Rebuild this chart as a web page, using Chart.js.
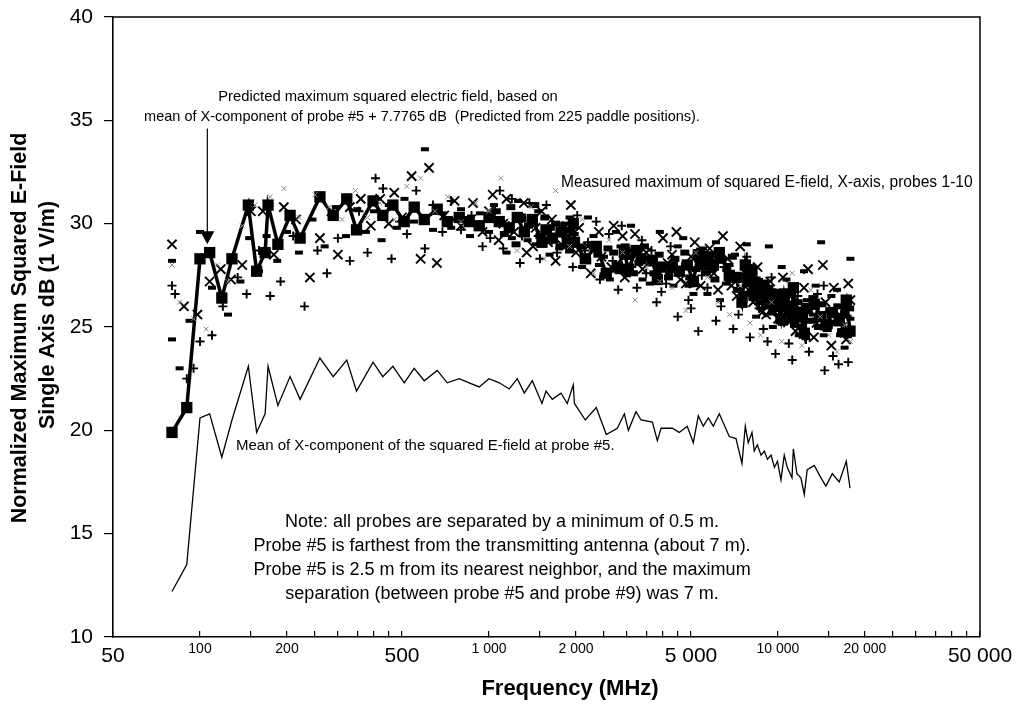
<!DOCTYPE html>
<html><head><meta charset="utf-8">
<script src="https://cdn.jsdelivr.net/npm/chart.js@4.4.1/dist/chart.umd.min.js"></script>
<style>html,body{margin:0;padding:0;background:#fff;}#wrap{width:1016px;height:706px;}</style>
</head><body><div id="wrap"><canvas id="c" width="1016" height="706"></canvas></div>
<script>
// ---------- data ----------
const freqMHz = [80,90,100,108,119,129,147,157,168,172,186,205,222,260,289,322,348,397,429,465,
  509,551,597,662,717,789,854,925,1000,1085,1175,1253,1325,1412,1525,1575,1656,1775,1866,1957,
  1975,2154,2350,2546,2780,2940,3036,3226,3358,3676,3824,3940,4308,4552,4853,5092,5300,5515,5738,5971,
  6264,6783,7156,7505,7706,7890,8128,8280,8480,8736,8970,9190,9460,9720,9955,10240,10510,10770,11180,11300,
  11630,12000,12330,12620,13350,14080,14650,15410,16290,17230,17750];
const meanDb = [12.2,13.5,20.6,20.8,18.7,20.5,23.1,19.9,20.8,23.1,
  21.2,22.6,21.5,23.5,22.6,23.4,21.9,23.3,22.6,23.1,
  22.3,23.0,22.4,22.9,22.3,22.5,22.3,22.1,22.5,22.3,
  22.0,22.5,21.8,22.4,21.3,21.9,21.5,21.8,21.3,22.2,
  21.3,20.5,21.1,19.8,20.1,20.8,20.0,20.9,20.5,20.4,
  19.5,20.1,20.1,19.9,20.2,19.4,20.7,20.2,20.6,20.2,
  20.8,19.7,19.6,18.4,20.2,19.4,19.9,19.0,19.3,18.8,
  19.0,18.6,18.8,18.2,18.5,17.6,18.8,18.2,17.7,19.1,
  17.9,17.7,16.9,18.1,18.3,17.7,17.3,17.9,17.5,18.5,
  17.2];
const predictedDb = [19.9,21.1,28.3,28.6,26.4,28.3,30.9,27.7,28.6,30.9,
  29.0,30.4,29.3,31.3,30.4,31.2,29.7,31.1,30.4,30.9,
  30.1,30.8,30.2,30.7,30.1,30.3,30.1,29.9,30.3,30.1,
  29.8,30.3,29.6,30.2,29.1,29.7,29.3,29.6,29.1,30.0,
  29.1,28.3,28.9,27.6,27.9,28.6,27.8,28.7,28.3,28.2,
  27.3,27.9,27.9,27.7,28.0,27.2,28.5,28.0,28.4,28.0,
  28.6,27.5,27.4,26.2,28.0,27.2,27.7,26.8,27.1,26.6,
  26.8,26.4,26.6,26.0,26.3,25.4,26.6,26.0,25.5,26.9,
  25.7,25.5,24.7,25.9,26.1,25.5,25.1,25.7,25.3,26.3,
  24.8];

// measured maxima, probes 1-10 (grouped by marker glyph) : [MHz, dB]
const probesCross = [[80,29.0],[88,26.0],[98,25.6],[108,27.2],[118,27.8],[128,27.3],[140,28.0],[150,30.6],[165,30.6],[180,28.5],
  [195,30.8],[215,30.2],[240,27.4],[260,29.3],[285,30.6],[300,28.5],[330,30.8],[360,31.2],[390,29.9],[420,31.2],
  [450,30.0],[470,31.5],[500,30.3],[540,32.3],[580,28.3],[620,32.7],[660,28.1],[700,30.4],[760,31.1],[800,29.9],
  [880,31.0],[950,29.6],[1000,30.6],[1080,29.2],[1150,31.2],[1250,30.2],[1350,28.6],[1450,29.8],[1600,29.1],[1700,28.2],
  [1850,29.5],[2000,28.6],[2200,28.9],[2400,29.6],[2650,27.9],[2900,29.4],[3100,28.7],[3400,27.8],[3700,28.2],[4000,29.3],
  [4300,28.5],[4600,27.3],[5000,28.4],[5400,27.0],[5800,28.8],[6200,26.8],[6700,28.3],[7200,26.5],[7700,27.6],[8200,26.2],
  [8800,25.7],[9400,27.2],[10000,25.4],[10800,26.6],[11500,24.8],[12300,26.9],[13300,24.5],[14300,28.0],[15300,24.1],[16300,25.6],
  [17200,24.4],[17800,26.3],
  [1030,31.4],[1120,30.0],[1220,29.6],[1320,31.0],[1420,28.9],[1520,30.6],[1650,30.2],[1780,29.0],[1920,30.9],[2050,29.8],
  [2250,27.6],[2450,28.4],[2700,29.9],[2950,27.4],[3200,29.5],[3500,28.6],[3800,27.4],[4150,28.1],[4450,29.6],[4800,27.1],
  [5150,29.1],[5600,28.1],[6000,27.6],[6450,29.4],[6900,27.0],[7400,28.9],[7900,26.8],[8500,27.9],[9100,25.6],[9700,26.3],
  [10400,27.4],[11100,25.3],[11900,25.9],[12700,27.8],[13600,25.2],[14600,26.2],[15600,26.9],[16700,25.0],[17500,27.1]];
const probesPlus = [[80,27.0],[82,26.6],[90,22.5],[95,23.0],[100,24.3],[110,24.6],[120,26.0],[135,27.4],[145,26.6],[160,28.7],
  [175,26.5],[190,27.2],[210,29.4],[230,26.0],[255,28.7],[275,27.6],[300,29.3],[330,28.2],[355,30.6],[380,28.6],
  [405,32.2],[430,31.7],[460,28.3],[490,30.1],[520,29.5],[560,31.6],[600,28.8],[640,30.9],[690,29.6],[740,31.1],
  [800,29.7],[870,30.4],[950,28.9],[1050,30.6],[1120,28.8],[1200,31.2],[1300,29.4],[1400,30.1],[1500,28.3],[1650,29.2],
  [1800,29.9],[1950,27.9],[2150,28.7],[2350,30.1],[2600,29.5],[2800,26.8],[3000,28.3],[3250,26.9],[3500,27.6],[3800,26.2],
  [4100,27.1],[4500,25.5],[4900,26.3],[5300,24.8],[5700,26.9],[6100,25.3],[6500,27.9],[7000,24.9],[7500,26.1],[8000,24.5],
  [8600,25.9],[9200,24.3],[9800,23.7],[10500,25.2],[11200,23.4],[12000,24.9],[12800,23.8],[13700,26.6],[14500,22.9],[15500,23.6],
  [16500,24.7],[17500,23.3],
  [1010,29.3],[1090,31.6],[1170,29.9],[1280,28.1],[1380,31.0],[1480,29.4],[1580,30.9],[1720,28.6],[1870,29.2],[2020,30.4],
  [2200,29.1],[2420,27.3],[2680,28.2],[2880,29.9],[3120,27.9],[3380,29.2],[3650,28.7],[3950,26.7],[4250,28.9],[4650,27.9],
  [5000,25.9],[5450,27.5],[5900,28.2],[6350,26.0],[6800,27.2],[7300,25.6],[7800,28.4],[8300,26.7],[8900,24.9],[9500,27.4],
  [10200,26.1],[10900,24.2],[11700,26.5],[12500,24.4],[13400,25.4],[14400,27.0],[15200,25.3],[16200,23.2],[17100,26.0],[17700,24.7]];
const probesDash = [[80,28.2],[80,24.4],[85,23.0],[92,25.3],[100,29.6],[110,26.9],[118,26.6],[125,25.6],[138,27.2],[148,29.3],
  [160,27.7],[170,29.4],[185,28.2],[200,29.6],[220,28.6],[245,30.2],[270,28.9],[295,30.8],[320,29.4],[350,30.7],
  [375,29.6],[400,30.6],[425,29.2],[450,30.9],[480,29.8],[510,31.2],[550,30.1],[600,33.6],[640,29.7],[690,30.5],
  [740,29.8],[800,30.7],[860,29.4],[930,30.5],[1000,29.6],[1100,30.1],[1200,29.3],[1300,30.4],[1450,29.0],[1600,29.6],
  [1750,28.8],[1900,30.3],[2100,27.9],[2300,29.4],[2500,28.4],[2750,29.6],[3000,27.5],[3300,28.7],[3600,27.1],[3900,29.6],
  [4200,27.6],[4500,28.9],[4900,27.0],[5300,28.2],[5700,26.6],[6100,29.1],[6600,27.1],[7100,28.5],[7600,26.3],[8100,27.7],
  [8700,25.9],[9300,28.9],[10000,26.4],[10700,27.3],[11500,25.2],[12300,27.7],[13200,25.6],[14100,29.1],[15000,25.0],[16000,26.8],
  [17000,24.0],[17800,28.3],[17800,25.4],
  [1040,30.9],[1150,28.6],[1260,31.1],[1360,29.2],[1480,30.6],[1620,28.5],[1820,30.0],[1980,29.5],[2200,30.3],[2400,28.0],
  [2620,27.3],[2850,28.9],[3100,29.9],[3400,27.3],[3700,28.4],[4050,28.0],[4350,27.0],[4700,29.3],[5100,26.6],[5500,28.8],
  [5900,27.7],[6300,26.3],[6800,28.0],[7300,27.3],[7800,29.0],[8400,25.5],[9000,27.2],[9600,25.0],[10300,27.9],[11000,26.0],
  [11800,24.6],[12600,26.3],[13500,27.0],[14400,24.6],[15300,26.5],[16400,24.6],[17400,25.5]];
// dense cluster of probe maxima along the band (bold bars)
const probesBand = [[1060,30.6],[1130,29.5],[1190,30.8],[1240,29.0],[1300,30.2],[1370,29.9],[1440,30.9],[1500,29.4],[1560,30.3],[1630,29.8],
  [1700,30.0],[1760,28.9],[1840,29.7],[1900,28.7],[1960,29.9],[2080,28.9],[2180,28.2],[2280,29.0],[2380,28.5],[2500,27.5],
  [2580,28.8],[2700,28.6],[2820,27.7],[2960,28.9],[3060,28.4],[3160,27.6],[3300,28.1],[3450,28.9],[3560,28.3],[3720,27.6],
  [3880,28.5],[4000,27.9],[4180,27.4],[4400,28.3],[4600,27.6],[4760,28.6],[4950,27.4],[5200,27.8],[5400,28.7],[5650,27.6],
  [5850,28.5],[6050,27.3],[6400,28.2],[6650,27.8],[6950,28.4],[7250,26.8],[7550,27.5],[7750,26.6],[8000,27.9],[8200,26.4],
  [8400,27.3],[8650,26.2],[8850,27.0],[9050,26.0],[9300,26.9],[9550,25.7],[9850,26.7],[10100,26.1],[10350,25.2],[10600,26.4],
  [10850,25.6],[11050,26.6],[11400,25.1],[11750,26.2],[12150,25.0],[12450,26.0],[12900,25.3],[13200,26.4],[13800,25.0],[14200,26.1],
  [14800,24.9],[15100,25.8],[15800,25.2],[16100,26.0],[16600,24.8],[17000,25.7],[17400,24.6],[17700,25.9]];
const probesGrey = [[80,28.0],[85,26.2],[95,25.4],[105,24.9],[115,28.0],[125,27.2],[140,29.9],[155,30.9],[175,31.3],[195,31.7],
  [220,30.3],[250,31.4],[280,30.8],[310,30.2],[345,31.6],[380,30.3],[420,31.0],[470,30.2],[520,31.8],[580,32.2],
  [650,30.6],[720,31.3],[800,30.1],[900,31.0],[1000,30.6],[1100,32.2],[1250,28.7],[1400,30.8],[1550,28.3],[1700,31.6],
  [1900,28.9],[2100,30.2],[2300,27.6],[2600,29.2],[2900,28.6],[3200,26.3],[3500,27.9],[3900,27.2],[4300,26.9],[4800,25.8],
  [5200,28.6],[5700,27.4],[6200,26.2],[6800,25.6],[7400,27.0],[8000,25.2],[8700,24.6],[9500,26.2],[10300,24.3],[11200,27.6],
  [12100,24.1],[13000,26.8],[14000,25.5],[15000,24.6],[16000,23.8],[17000,25.1],[17800,24.3]];

// axis ticks
const xTickValues = [50,100,150,200,250,300,350,400,450,500,1000,1500,2000,2500,3000,3500,4000,4500,5000,
  10000,15000,20000,25000,30000,35000,40000,45000,50000];
const xLabeledTicks = [50,100,200,500,1000,2000,5000,10000,20000,50000];
const xTickLabels = ['50','100','200','500','1 000','2 000','5 000','10 000','20 000','50 000'];
const xMajorTicks = [50,500,5000,50000];

// texts
const yTitleLines = ['Normalized Maximum Squared E-Field','Single Axis dB (1 V/m)'];
const xTitle = 'Frequency (MHz)';
const predictedNote = ['Predicted maximum squared electric field, based on',
  'mean of X-component of probe #5 + 7.7765 dB  (Predicted from 225 paddle positions).'];
const measuredNote = 'Measured maximum of squared E-field, X-axis, probes 1-10';
const meanNote = 'Mean of X-component of the squared E-field at probe #5.';
const probeNote = ['Note: all probes are separated by a minimum of 0.5 m.',
  'Probe #5 is farthest from the transmitting antenna (about 7 m).',
  'Probe #5 is 2.5 m from its nearest neighbor, and the maximum',
  'separation (between probe #5 and probe #9) was 7 m.'];

// ---------- chart ----------
const FONT = '"Liberation Sans", Arial, Helvetica, sans-serif';
const toXY = pairs => pairs.map(p => ({x: p[0], y: p[1]}));
const lineXY = vals => vals.map((v, i) => ({x: freqMHz[i], y: v}));

const decor = {
  id: 'decor',
  afterDraw(chart) {
    const {ctx, chartArea: a, scales: {x, y}} = chart;
    ctx.save();
    ctx.strokeStyle = '#000'; ctx.lineWidth = 1.5;
    ctx.beginPath(); ctx.moveTo(a.left, a.top); ctx.lineTo(a.right, a.top); ctx.lineTo(a.right, a.bottom); ctx.stroke();
    ctx.fillStyle = '#000';
    // arrow
    const ax = x.getPixelForValue(106);
    const aTop = y.getPixelForValue(34.6), aTip = y.getPixelForValue(29.0);
    ctx.lineWidth = 1.2;
    ctx.beginPath(); ctx.moveTo(ax, aTop); ctx.lineTo(ax, aTip - 12); ctx.stroke();
    ctx.beginPath(); ctx.moveTo(ax - 7, aTip - 13); ctx.lineTo(ax + 7, aTip - 13); ctx.lineTo(ax, aTip); ctx.closePath(); ctx.fill();
    // annotations
    ctx.textBaseline = 'middle';
    ctx.textAlign = 'center';
    ctx.font = '14.8px ' + FONT;
    ctx.fillText(predictedNote[0], 388, 97);
    ctx.font = '14.5px ' + FONT;
    ctx.fillText(predictedNote[1], 422, 117);
    ctx.textAlign = 'left';
    ctx.font = '15.6px ' + FONT;
    ctx.fillText(measuredNote, 561, 183);
    ctx.font = '15px ' + FONT;
    ctx.fillText(meanNote, 236, 446);
    ctx.textAlign = 'center';
    ctx.font = '18px ' + FONT;
    probeNote.forEach((t, i) => ctx.fillText(t, 502, 522 + i * 24));
    // axis titles
    ctx.font = 'bold 22px ' + FONT;
    ctx.fillText(xTitle, 570, 689);
    ctx.font = 'bold 21.5px ' + FONT;
    ctx.textBaseline = 'alphabetic';
    ctx.save(); ctx.translate(26, 328); ctx.rotate(-Math.PI / 2); ctx.fillText(yTitleLines[0], 0, 0); ctx.restore();
    ctx.save(); ctx.translate(54, 315); ctx.rotate(-Math.PI / 2); ctx.fillText(yTitleLines[1], 0, 0); ctx.restore();
    ctx.restore();
  }
};

new Chart(document.getElementById('c'), {
  type: 'scatter',
  data: {
    datasets: [
      {type: 'line', data: lineXY(predictedDb), borderColor: '#000', backgroundColor: '#000', borderWidth: 3.5,
       pointStyle: 'rect', pointRadius: 8, pointBorderWidth: 0, tension: 0, order: 1},
      {data: toXY(probesDash), pointStyle: 'line', pointRadius: 4, borderColor: '#000', backgroundColor: '#000',
       pointBorderWidth: 4, order: 2},
      {data: toXY(probesBand), pointStyle: 'line', pointRadius: 4.5, borderColor: '#000', backgroundColor: '#000',
       pointBorderWidth: 6, order: 2},
      {data: toXY(probesCross), pointStyle: 'crossRot', pointRadius: 6.5, borderColor: '#000', backgroundColor: '#000',
       pointBorderWidth: 1.9, order: 3},
      {data: toXY(probesPlus), pointStyle: 'cross', pointRadius: 4.5, borderColor: '#000', backgroundColor: '#000',
       pointBorderWidth: 1.9, order: 4},
      {data: toXY(probesGrey), pointStyle: 'crossRot', pointRadius: 3.5, borderColor: '#8a8a8a', backgroundColor: '#8a8a8a',
       pointBorderWidth: 1, order: 0},
      {type: 'line', data: lineXY(meanDb), borderColor: '#000', borderWidth: 1.3, pointRadius: 0, tension: 0, order: 5}
    ]
  },
  options: {
    responsive: false, animation: false, devicePixelRatio: 1,
    layout: {padding: {left: 0, top: 17, right: 36, bottom: 0}},
    plugins: {legend: {display: false}, tooltip: {enabled: false}},
    scales: {
      x: {
        type: 'logarithmic', min: 50, max: 50000,
        afterBuildTicks: s => { s.ticks = xTickValues.map(v => ({value: v})); },
        afterFit: s => { s.height = 69; s.paddingLeft = 0; s.paddingRight = 0; },
        grid: {drawOnChartArea: false, tickLength: -6, color: '#000', lineWidth: 1.2},
        border: {color: '#000', width: 1.6},
        ticks: {
          autoSkip: false, maxRotation: 0, minRotation: 0, padding: 11.5, color: '#000',
          callback: v => { const i = xLabeledTicks.indexOf(v); return i >= 0 ? xTickLabels[i] : ''; },
          font: c => (c.tick && xMajorTicks.includes(c.tick.value))
            ? {family: FONT, size: 21, lineHeight: 1.3} : {family: FONT, size: 14, lineHeight: 1.0}
        }
      },
      y: {
        min: 10, max: 40,
        afterFit: s => { s.width = 113; s.paddingTop = 0; s.paddingBottom = 0; },
        grid: {drawOnChartArea: false, tickLength: 9, color: '#000', lineWidth: 1.2},
        border: {color: '#000', width: 1.6},
        ticks: {stepSize: 5, padding: 11, color: '#000', font: {family: FONT, size: 21}}
      }
    }
  },
  plugins: [decor]
});
</script>
</body></html>
